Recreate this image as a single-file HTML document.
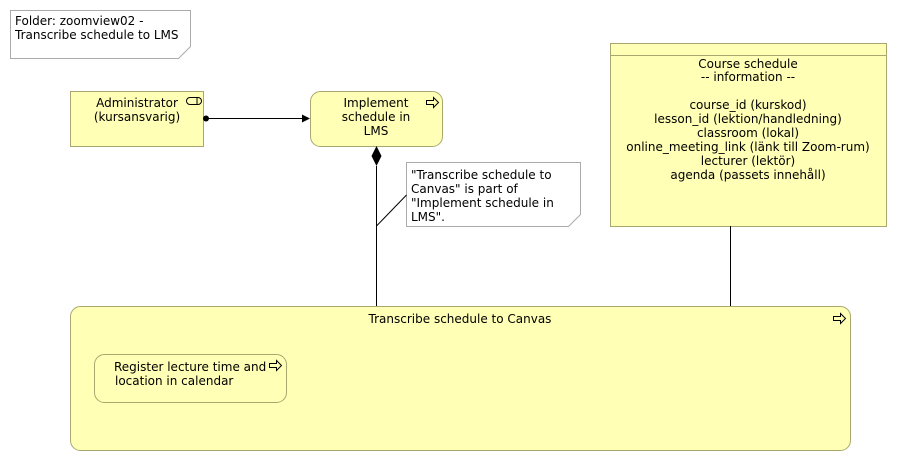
<html><body style="margin:0;background:#fff">
<svg width="897" height="461" xmlns="http://www.w3.org/2000/svg" style="font-family:'DejaVu Sans',sans-serif;font-size:12px">
<rect width="897" height="461" fill="#fff"/>
<path d="M10.5,10.5H190.5V46.5L178.5,58.5H10.5Z" fill="#fff" stroke="#aaa"/>
<text x="15" y="25" fill="#000">Folder: zoomview02 -</text>
<text x="15" y="39">Transcribe schedule to LMS</text>

<rect x="70.5" y="91.5" width="133" height="55" fill="#ffffb5" stroke="#a8a86e"/>
<text x="137" y="107" text-anchor="middle">Administrator</text>
<text x="137" y="121" text-anchor="middle">(kursansvarig)</text>
<rect x="186.5" y="97.5" width="15" height="7" rx="3.5" fill="none" stroke="#000"/>
<line x1="197" y1="98" x2="197" y2="104" stroke="#000"/>

<rect x="310.5" y="91.5" width="132" height="55" rx="10" fill="#ffffb5" stroke="#a8a86e"/>
<text x="376" y="107" text-anchor="middle">Implement</text>
<text x="376" y="121" text-anchor="middle">schedule in</text>
<text x="376" y="135" text-anchor="middle">LMS</text>
<path d="M426.5,100.5h7v-3l5,5l-5,5v-3h-7z" fill="none" stroke="#000"/>

<line x1="205" y1="118.5" x2="304" y2="118.5" stroke="#000"/>
<circle cx="206" cy="118.5" r="3" fill="#000"/>
<path d="M310,118.5l-8,-4v8z" fill="#000"/>

<path d="M376.5,146l5,10l-5,10l-5,-10z" fill="#000"/>
<line x1="376.5" y1="166" x2="376.5" y2="306" stroke="#000"/>

<path d="M406.5,162.5H580.5V214.5L568.5,226.5H406.5Z" fill="#fff" stroke="#aaa"/>
<line x1="376.5" y1="226" x2="406.5" y2="195" stroke="#000"/>
<text x="411" y="179">"Transcribe schedule to</text>
<text x="411" y="193">Canvas" is part of</text>
<text x="411" y="207">"Implement schedule in</text>
<text x="411" y="221">LMS".</text>

<rect x="610.5" y="43.5" width="276" height="183" fill="#ffffb5" stroke="#a8a86e"/>
<line x1="610.5" y1="55.5" x2="886.5" y2="55.5" stroke="#a8a86e"/>
<g text-anchor="middle">
<text x="748" y="68">Course schedule</text>
<text x="748" y="81">-- information --</text>
<text x="748" y="109">course_id (kurskod)</text>
<text x="748" y="123">lesson_id (lektion/handledning)</text>
<text x="748" y="137">classroom (lokal)</text>
<text x="748" y="151">online_meeting_link (länk till Zoom-rum)</text>
<text x="748" y="165">lecturer (lektör)</text>
<text x="748" y="179">agenda (passets innehåll)</text>
</g>
<line x1="730.5" y1="226" x2="730.5" y2="306" stroke="#000"/>

<rect x="70.5" y="306.5" width="780" height="144" rx="10" fill="#ffffb5" stroke="#a8a86e"/>
<text x="460" y="323" text-anchor="middle">Transcribe schedule to Canvas</text>
<path d="M833.5,316.5h7v-3l5,5l-5,5v-3h-7z" fill="none" stroke="#000"/>

<rect x="94.5" y="354.5" width="192" height="48" rx="10" fill="#ffffb5" stroke="#a8a86e"/>
<text x="114" y="371">Register lecture time and</text>
<text x="115" y="385">location in calendar</text>
<path d="M269.5,363.5h7v-3l5,5l-5,5v-3h-7z" fill="none" stroke="#000"/>
</svg>
</body></html>
